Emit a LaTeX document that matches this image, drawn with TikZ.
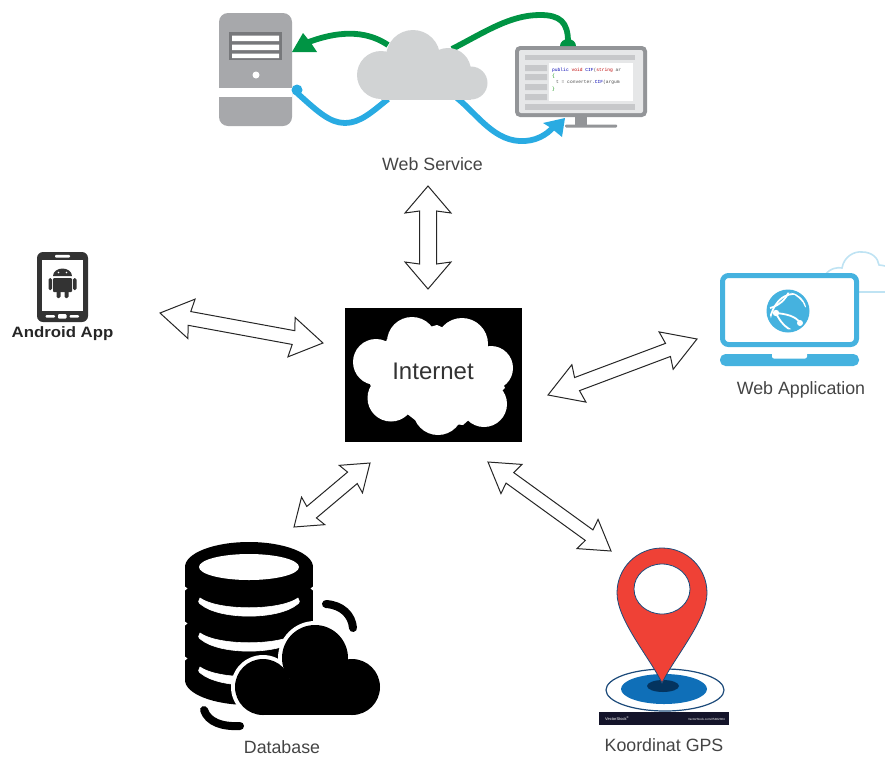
\documentclass[tikz,border=0pt]{standalone}
\usepackage{fontspec}
\setmainfont{Liberation Sans}
\setmonofont{Liberation Mono}
\usetikzlibrary{calc}
\definecolor{srvgray}{HTML}{A7A8AB}
\definecolor{srvdark}{HTML}{77787B}
\definecolor{cloudgray}{HTML}{D1D3D4}
\definecolor{wsgreen}{HTML}{009444}
\definecolor{wsblue}{HTML}{29ABE2}
\definecolor{monframe}{HTML}{939598}
\definecolor{monlight}{HTML}{E6E7E8}
\definecolor{monbar}{HTML}{C7C8CA}
\definecolor{phone}{HTML}{333333}
\definecolor{lapblue}{HTML}{45B2DF}
\definecolor{lapcloud}{HTML}{BFE3F3}
\definecolor{pinred}{HTML}{EF4136}
\definecolor{navy}{HTML}{1C4A7A}
\definecolor{spotblue}{HTML}{0F6FB8}
\definecolor{spotdark}{HTML}{04345F}
\definecolor{stockbar}{HTML}{14142A}
\definecolor{labelgray}{HTML}{444444}
\tikzset{
  fatline/.style={draw=black!85,fill=white,line width=1pt,line join=miter},
  lbl/.style={font=\fontsize{17.8}{19}\selectfont,text=labelgray,inner sep=0pt},
  wsflow/.style={line width=5.8pt,line cap=butt},
  codeline/.style={font=\ttfamily\fontsize{4.6}{5}\selectfont,anchor=west,inner sep=0pt},
}
% tip-to-tip double arrow: #1,#2 named ends; #3 head length; #4 head half width; #5 shaft half width
\newcommand\fatarrow[5]{%
  \path let \p1=($(#2)-(#1)$), \n1={veclen(\x1,\y1)}, \n2={atan2(\y1,\x1)} in
    \pgfextra{\xdef\fatlen{\n1}\xdef\fatang{\n2}};
  \begin{scope}[shift={(#1)},cm={cos(\fatang),sin(\fatang),-sin(\fatang),cos(\fatang),(0,0)},x=1pt,y=1pt]
    \draw[fatline] (0,0) -- (#3,#4) -- (#3-2,#5) -- (\fatlen-#3+2,#5) -- (\fatlen-#3,#4)
      -- (\fatlen,0) -- (\fatlen-#3,-#4) -- (\fatlen-#3+2,-#5) -- (#3-2,-#5) -- (#3,-#4) -- cycle;
  \end{scope}}
% crescent highlight of a database layer, #1 = y of its ends
\newcommand\dbcrescent[1]{%
  \fill[white,line join=round,draw=white,line width=0.6pt] (200,#1) .. controls (218,#1+13) and (280,#1+13) .. (298,#1)
    .. controls (300,#1+2) and (300,#1+5) .. (297,#1+6.5)
    .. controls (278,#1+22) and (220,#1+22) .. (201,#1+6.5)
    .. controls (198,#1+5) and (198,#1+2) .. (200,#1) -- cycle;}
\begin{document}
\begin{tikzpicture}[x=1pt,y=-1pt]
\useasboundingbox (0,0) rectangle (885,758);

% ---------- Web service: server
\fill[srvgray,rounded corners=9pt] (219,13) rectangle (292,126);
\fill[white] (219,88) rectangle (292,97);
\fill[srvdark] (229,32) rectangle (282,60);
\fill[white] (232,35.5) rectangle (279,41) (232,44.5) rectangle (279,50) (232,53.5) rectangle (279,58);
\fill[white] (256,75) circle (3.5);

% ---------- Web service: monitor
\fill[monframe] (575,115) rectangle (587,126);
\fill[monframe,rounded corners=1pt] (565,124.5) rectangle (617,127.5);
\fill[monframe,rounded corners=5pt] (515,46) rectangle (647,117);
\fill[monlight,rounded corners=2pt] (519,50) rectangle (643,113);
\fill[monbar] (525,55) rectangle (635,60);
\fill[monbar] (525,65) rectangle (547,71) (525,74) rectangle (547,80) (525,84) rectangle (547,90) (525,94) rectangle (547,100);
\fill[monbar] (525,104) rectangle (635,110);
\fill[white] (549,63) rectangle (633,101);
\begin{scope}
  \clip (549,63) rectangle (633,101);
  \node[codeline] (code1) at (552,70.5) {\textcolor{blue!70!black}{public} \textcolor{red!75!black}{void} \textcolor{blue!70!black}{CIF}\textcolor{black!70}{(}\textcolor{red!75!black}{string} \textcolor{black!70}{ar}};
  \node[codeline,text=green!55!black] (code2) at (552,76.5) {\{};
  \node[codeline,text=black!70] (code3) at (556,82.5) {t = converter.\textcolor{blue!70!black}{CIF}(argum};
  \node[codeline,text=green!55!black] (code4) at (552,89) {\}};
\end{scope}

% ---------- Web service: flows
\fill[wsblue] (297,90) circle (5.5);
\draw[wsflow,wsblue] (296,92) .. controls (318,112) and (330,123) .. (345,123) .. controls (360,123) and (372,112) .. (388,99);
\draw[wsflow,wsblue] (457,98) .. controls (478,115) and (495,143) .. (525,141) .. controls (540,140) and (550,132) .. (556,124);
\fill[wsblue] (565,118) -- (543,123) -- (551,128) -- (562,137) -- cycle;
\draw[wsflow,wsgreen] (388,45) .. controls (370,33) and (345,28) .. (306,43);
\fill[wsgreen] (292,52) -- (303,33) -- (311,43) -- (317,52) -- cycle;
\draw[wsflow,wsgreen] (452,49) .. controls (485,32) and (510,15) .. (540,15) .. controls (560,15) and (568,22) .. (568,42);
\fill[wsgreen] (560,46) arc (180:360:8 and 7) -- cycle;

% ---------- Web service: cloud
\fill[cloudgray] (413,57) circle (27);
\fill[cloudgray] (381,75) circle (24);
\fill[cloudgray] (448,71) circle (23);
\fill[cloudgray] (471,83) circle (16.5);
\fill[cloudgray] (381,70) rectangle (471,99.5);

\node[lbl] (webservice) at (432.5,164) {Web Service};

% ---------- Android app
\fill[phone,rounded corners=6pt] (37,252) rectangle (88,322);
\fill[white] (42,260) rectangle (83,311);
\fill[white,rounded corners=1pt] (55,254.8) rectangle (70,257.5);
\fill[white,rounded corners=1pt] (45.5,315) rectangle (55,317.5) (58,314) rectangle (66.5,318.5) (69.5,315) rectangle (79,317.5);
\fill[phone] (53,276) arc (180:360:9.5 and 7.5) -- cycle;
\fill[phone,rounded corners=1pt] (53,278) rectangle (72,292);
\fill[phone,rounded corners=1.5pt] (48.5,278) rectangle (52,290) (73,278) rectangle (76.5,290);
\fill[phone,rounded corners=1.5pt] (56.5,290) rectangle (60.5,298) (64.5,290) rectangle (68.5,298);
\fill[white] (58.5,272.5) circle (0.8) (66.5,272.5) circle (0.8);
\node[lbl,font=\bfseries\fontsize{15}{17}\selectfont,text=black!85,xscale=1.12] (android) at (62.5,333.5) {Android App};

% ---------- Internet
\node[fill=black,minimum width=177pt,minimum height=134pt,inner sep=0pt] (internetbox) at (433.5,375) {};
\fill[white] (387,339) -- (437,325) -- (487,347) -- (505,388) -- (463,425) -- (415,420) -- (370,385) -- cycle;
\fill[white] (412,342) circle (25) (462,344) circle (26) (376,362) circle (23) (491,368) circle (22)
  (391,398) circle (23.5) (438,410) circle (25) (484,404) circle (23);
\node[font=\fontsize{24}{26}\selectfont,text=black!80,inner sep=0pt] (internet) at (433,371) {Internet};

% ---------- Web application
\draw[lapcloud,line width=1.6pt] (825,275) .. controls (830,268) and (838,267) .. (842,268)
  .. controls (844,256) and (855,251) .. (862,252) .. controls (872,252) and (878,258) .. (879,265)
  .. controls (881,265) and (885,266) .. (885,266);
\draw[lapcloud,line width=1.6pt] (859,292) -- (885,292);
\draw[lapblue,line width=5pt,rounded corners=6pt,fill=white] (722.5,275.5) rectangle (856.5,344.5);
\fill[lapblue,rounded corners=5.5pt] (720,354) rectangle (859,366);
\fill[white,rounded corners=2pt] (772,352) rectangle (807,358.5);
\fill[lapblue] (788,311) circle (21.5);
\begin{scope}
  \clip (788,311) circle (18.5);
  \draw[white,line width=1.8pt] (770,318) .. controls (776,296) and (790,290) .. (806,296);
  \draw[white,line width=1.8pt] (770,308) .. controls (778,306) and (786,300) .. (789,291);
  \draw[white,line width=1.8pt] (776,313) .. controls (786,314) and (796,316) .. (800,323);
  \draw[white,line width=1.8pt] (776,313) .. controls (780,322) and (786,328) .. (793,331);
  \draw[white,line width=1.8pt] (790,291) .. controls (798,296) and (804,300) .. (806,307);
\end{scope}
\fill[white] (776,313) circle (3.2) (800,323) circle (3);
\node[lbl] (webapp) at (801,390) {Web Application};

% ---------- Database
\fill[black] (249,567) ellipse (64 and 25);
\fill[black] (185,567) rectangle (313,680);
\fill[black] (249,680) ellipse (64 and 25);
\fill[white] (249,567) ellipse (50 and 13);
\fill[white] (183,585) -- (187.5,588.5) -- (183,592) -- cycle;
\fill[white] (315,585) -- (310.5,588.5) -- (315,592) -- cycle;
\fill[white] (183,620) -- (187.5,623.5) -- (183,627) -- cycle;
\fill[white] (315,620) -- (310.5,623.5) -- (315,627) -- cycle;
\fill[white] (183,655) -- (187.5,658.5) -- (183,662) -- cycle;
\dbcrescent{598}
\dbcrescent{633}
\dbcrescent{667}
\fill[white] (263,687) circle (32);
\fill[white] (315,658) circle (37);
\fill[white] (352,687) circle (32);
\fill[white] (263,680) rectangle (352,719);
\fill[black] (263,687) circle (28);
\fill[black] (315,658) circle (33);
\fill[black] (352,687) circle (28);
\fill[black] (263,680) rectangle (352,715);
\draw[black,line width=8pt,line cap=round] (326,604) .. controls (342,605) and (352,615) .. (353,628);
\draw[black,line width=8pt,line cap=round] (204,710) .. controls (208,722) and (222,727) .. (240,726);
\node[lbl] (database) at (282,747.5) {Database};

% ---------- GPS pin
\draw[navy,line width=1.2pt,fill=white] (665,690) ellipse (59 and 21);
\fill[spotblue] (664,689) ellipse (43 and 15);
\fill[spotdark] (663,686) ellipse (16 and 6);
\draw[navy,line width=0.8pt,fill=pinred] (662,683) .. controls (650,658) and (617,620) .. (617,593)
  .. controls (617,568) and (637,548) .. (662,548) .. controls (687,548) and (707,568) .. (707,593)
  .. controls (707,620) and (674,658) .. (662,683) -- cycle;
\draw[navy,line width=0.8pt,fill=white] (662,589) ellipse (28 and 25);
\node[fill=stockbar,minimum width=130pt,minimum height=13pt,inner sep=0pt] (stockbar) at (664,718.5) {};
\node[font=\fontsize{4}{5}\selectfont,text=white!80,inner sep=0pt,anchor=west] (stocka) at (605,718.5) {VectorStock\textsuperscript{\textregistered}};
\node[font=\fontsize{3}{4}\selectfont,text=white!70,inner sep=0pt,anchor=east] (stockb) at (725,719) {VectorStock.com/25482384};
\node[lbl] (gps) at (664,745) {Koordinat GPS};

% ---------- Double arrows
\coordinate (wsA) at (428,186);  \coordinate (wsB) at (428,289);
\coordinate (anA) at (160,313);  \coordinate (anB) at (323,343);
\coordinate (waA) at (697,339);  \coordinate (waB) at (548,395);
\coordinate (dbA) at (370,463);  \coordinate (dbB) at (294,527);
\coordinate (gpA) at (488,462);  \coordinate (gpB) at (611,551);
\fatarrow{wsA}{wsB}{27}{23}{8.5}
\fatarrow{anA}{anB}{32}{20}{7}
\fatarrow{waA}{waB}{33}{20}{7}
\fatarrow{dbA}{dbB}{25}{18}{7.5}
\fatarrow{gpA}{gpB}{29}{18}{6.5}
\end{tikzpicture}
\end{document}
